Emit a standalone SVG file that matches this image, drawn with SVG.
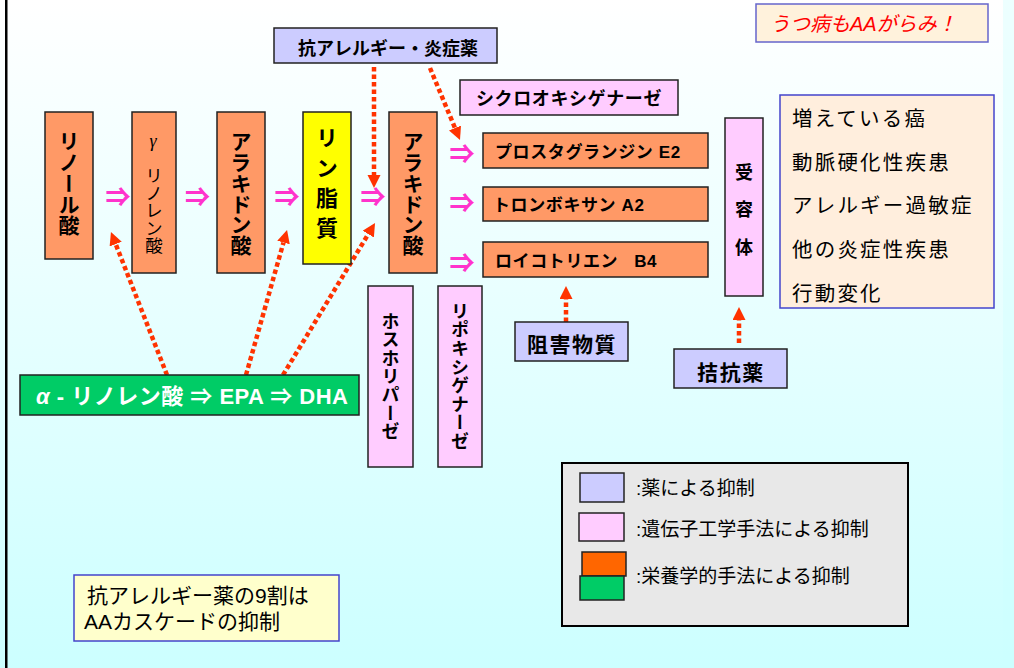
<svg xmlns="http://www.w3.org/2000/svg" width="1014" height="668" viewBox="0 0 1014 668">
<defs>
<linearGradient id="bg" x1="0" y1="0" x2="0" y2="1">
<stop offset="0" stop-color="#ffffff"/>
<stop offset="1" stop-color="#ccffff"/>
</linearGradient>
<marker id="ah" markerUnits="userSpaceOnUse" markerWidth="14" markerHeight="14" refX="0" refY="6.5" orient="auto"><path d="M0,0 L13,6.5 L0,13 z" fill="#ff3300"/></marker>
<style>
.bx{stroke:#222;stroke-width:1.5}
.or{fill:#ff9966}
.pk{fill:#ffccff}
.lv{fill:#ccccff}
.jb{font-family:"Liberation Sans","Noto Sans CJK JP",sans-serif;font-weight:700;fill:#000}
.jn{font-family:"Liberation Sans","Noto Sans CJK JP",sans-serif;font-weight:400;fill:#000}
.vb{font-family:"Noto Sans CJK JP",sans-serif;font-weight:700;fill:#000;writing-mode:vertical-rl}
.vn{font-family:"Noto Sans CJK JP",sans-serif;font-weight:400;fill:#000;writing-mode:vertical-rl}
.dr{fill:none;stroke:#ff3300;stroke-width:4.5;stroke-dasharray:4.5 3;marker-end:url(#ah)}
.ar{font-family:"Noto Sans CJK JP",sans-serif;font-weight:900;font-size:25px;fill:#ff33cc;text-anchor:middle}
.mid{text-anchor:middle}
</style>
</defs>
<rect x="0" y="0" width="1014" height="668" fill="url(#bg)"/>
<rect x="1003" y="0" width="11" height="668" fill="#ccffff" opacity="0.35"/>
<rect x="5" y="0" width="2.5" height="668" fill="#000"/>

<g id="connectors">
<path class="dr" d="M374,67 L374,175"/>
<path class="dr" d="M430,68 L455,128"/>
<path class="dr" d="M167,375 L115.7,244.1"/>
<path class="dr" d="M246,375 L283.5,242.5"/>
<path class="dr" d="M283,375 L368.3,234.1"/>
<path class="dr" d="M566,322 L566,299"/>
<path class="dr" d="M739,343 L739,320"/>
<text class="ar" x="118" y="206">⇒</text>
<text class="ar" x="197.5" y="206">⇒</text>
<text class="ar" x="287" y="206">⇒</text>
<text class="ar" x="373" y="206">⇒</text>
<text class="ar" x="462" y="163">⇒</text>
<text class="ar" x="462" y="212">⇒</text>
<text class="ar" x="462" y="272">⇒</text>
</g>

<g id="n-linoleic">
<rect class="bx or" x="45" y="112" width="48" height="147"/>
<text class="vb" x="69" y="131" font-size="21">リノール酸</text>
</g>
<g id="n-gla">
<rect class="bx or" x="132" y="112" width="44" height="161"/>
<text x="153" y="147" font-family="Liberation Serif,serif" font-style="italic" font-size="18" class="mid">γ</text>
<text class="vn" x="154" y="167" font-size="17.5">リノレン酸</text>
</g>
<g id="n-aa1">
<rect class="bx or" x="217" y="112" width="48" height="161"/>
<text class="vb" x="241" y="131" font-size="21" letter-spacing="-0.3">アラキドン酸</text>
</g>
<g id="n-phospholipid">
<rect class="bx" fill="#ffff00" x="303" y="112" width="48" height="152"/>
<text class="vb" x="327" y="127" font-size="22" letter-spacing="8">リン脂質</text>
</g>
<g id="n-aa2">
<rect class="bx or" x="389" y="112" width="48" height="161"/>
<text class="vb" x="413" y="131" font-size="21" letter-spacing="-0.3">アラキドン酸</text>
</g>

<g id="n-antiallergy">
<rect class="bx lv" x="274" y="28" width="223" height="35"/>
<text class="jb mid" x="388" y="55" font-size="18" letter-spacing="0">抗アレルギー・炎症薬</text>
</g>
<g id="n-cox">
<rect class="bx pk" x="460" y="80" width="218" height="35"/>
<text class="jb mid" x="569" y="105" font-size="18" letter-spacing="0.6">シクロオキシゲナーゼ</text>
</g>
<g id="n-pge2">
<rect class="bx or" x="483" y="133" width="225" height="35"/>
<text class="jb" x="495" y="158" font-size="17" letter-spacing="0.6">プロスタグランジン E2</text>
</g>
<g id="n-txa2">
<rect class="bx or" x="483" y="187" width="225" height="34"/>
<text class="jb" x="493" y="211" font-size="17" letter-spacing="0.6">トロンボキサン A2</text>
</g>
<g id="n-ltb4">
<rect class="bx or" x="483" y="242" width="225" height="35"/>
<text class="jb" x="495" y="267" font-size="17" letter-spacing="0.6" xml:space="preserve">ロイコトリエン   B4</text>
</g>

<g id="n-receptor">
<rect class="bx pk" x="725" y="118" width="38" height="178"/>
<text class="vb" x="744" y="163" font-size="18" letter-spacing="19.5">受容体</text>
</g>
<g id="n-diseases">
<rect x="780" y="95" width="214" height="213" fill="#ffeedd" stroke="#4444cc" stroke-width="1.5"/>
<text class="jn" x="792" y="126" font-size="20.5" letter-spacing="2.2">増えている癌</text>
<text class="jn" x="792" y="170" font-size="20.5" letter-spacing="2.2">動脈硬化性疾患</text>
<text class="jn" x="792" y="213" font-size="20.5" letter-spacing="2.2">アレルギー過敏症</text>
<text class="jn" x="792" y="257" font-size="20.5" letter-spacing="2.2">他の炎症性疾患</text>
<text class="jn" x="792" y="301" font-size="20.5" letter-spacing="2.2">行動変化</text>
</g>

<g id="n-depression">
<rect x="756" y="4" width="232" height="38" fill="#fff2dc" stroke="#6666cc" stroke-width="1.5"/>
<text x="770" y="31" font-family="Liberation Sans,'Noto Sans CJK JP',sans-serif" font-style="italic" font-size="20" fill="#ff0000">うつ病もAAがらみ！</text>
</g>

<g id="n-inhibitor">
<rect class="bx lv" x="515" y="322" width="113" height="39"/>
<text class="jb mid" x="572" y="352" font-size="21" letter-spacing="1.5">阻害物質</text>
</g>
<g id="n-antagonist">
<rect class="bx lv" x="674" y="349" width="113" height="39"/>
<text class="jb mid" x="731" y="380" font-size="21" letter-spacing="1.7">拮抗薬</text>
</g>

<g id="n-omega3">
<rect class="bx" fill="#00cc66" x="20" y="375" width="339" height="40"/>
<text x="36" y="404" font-family="Liberation Sans,'Noto Sans CJK JP',sans-serif" font-weight="700" font-size="22" fill="#ffffff" textLength="312" lengthAdjust="spacing"><tspan font-style="italic">α</tspan> - リノレン酸 ⇒ EPA ⇒ DHA</text>
</g>

<g id="n-pla2">
<rect class="bx pk" x="368" y="286" width="45" height="181"/>
<text class="vb" x="390.5" y="312" font-size="18" letter-spacing="0.4">ホスホリパーゼ</text>
</g>
<g id="n-lox">
<rect class="bx pk" x="438" y="286" width="44" height="181"/>
<text class="vb" x="460" y="302" font-size="18" letter-spacing="0.6">リポキシゲナーゼ</text>
</g>

<g id="legend">
<rect x="562" y="463" width="346" height="163" fill="#e8e8e8" stroke="#000" stroke-width="2"/>
<rect class="bx lv" x="580" y="473" width="44" height="29"/>
<rect class="bx pk" x="579" y="513" width="45" height="28"/>
<rect class="bx" fill="#ff6600" x="582" y="552" width="44" height="24"/>
<rect class="bx" fill="#00cc66" x="580" y="576" width="44" height="24"/>
<text class="jn" x="636" y="495" font-size="19">:薬による抑制</text>
<text class="jn" x="636" y="536" font-size="19">:遺伝子工学手法による抑制</text>
<text class="jn" x="636" y="583" font-size="19">:栄養学的手法による抑制</text>
</g>

<g id="n-note">
<rect x="74" y="575" width="265" height="66" fill="#ffffcc" stroke="#4444cc" stroke-width="1.5"/>
<text class="jn" x="87" y="603" font-size="21">抗アレルギー薬の9割は</text>
<text class="jn" x="84" y="629" font-size="21">AAカスケードの抑制</text>
</g>
</svg>
